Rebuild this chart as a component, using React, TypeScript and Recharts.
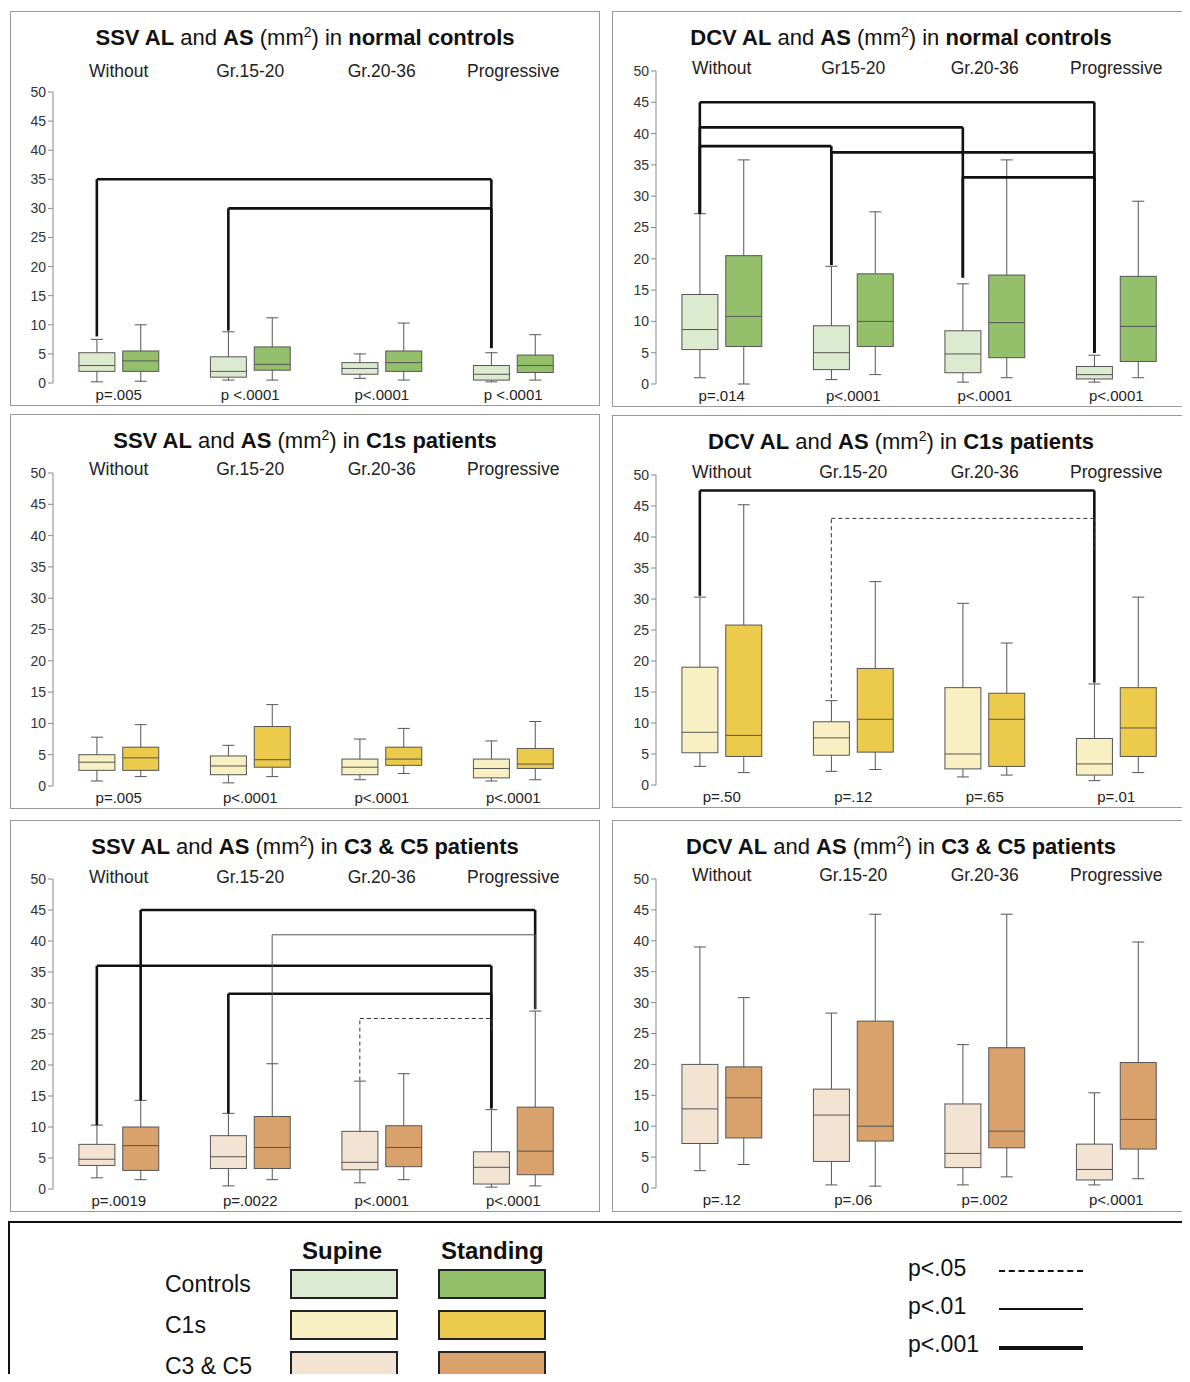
import { ComposedChart, Bar, XAxis, YAxis, ReferenceLine } from "recharts";

// box positions: group g -> supine at 3g+1, standing at 3g+2
const positions = [1, 2, 4, 5, 7, 8, 10, 11];
const groupTicks = [1.5, 4.5, 7.5, 10.5];
const yTicks = [0, 5, 10, 15, 20, 25, 30, 35, 40, 45, 50];

// [min, q1, median, q3, max], order: W sup, W std, G15 sup, G15 std, G20 sup, G20 std, Prog sup, Prog std
const ssvControls = [
  [0.2, 2, 3, 5.2, 7.5], [0.3, 2, 3.8, 5.5, 10],
  [0.5, 1, 2, 4.5, 8.8], [0.5, 2.2, 3.2, 6.2, 11.2],
  [0.8, 1.5, 2.5, 3.5, 5], [0.5, 2, 3.5, 5.5, 10.3],
  [0.2, 0.5, 1.5, 3, 5.2], [0.5, 1.8, 3, 4.8, 8.3],
];
const dcvControls = [
  [1, 5.5, 8.7, 14.3, 27.2], [0, 6, 10.8, 20.5, 35.8],
  [0.7, 2.3, 5, 9.3, 18.8], [1.5, 6, 10, 17.6, 27.5],
  [0.3, 1.8, 4.8, 8.5, 16], [1, 4.2, 9.8, 17.4, 35.8],
  [0.3, 0.8, 1.5, 2.8, 4.6], [1, 3.6, 9.2, 17.2, 29.2],
];
const ssvC1 = [
  [0.8, 2.5, 3.8, 5, 7.8], [1.5, 2.5, 4.5, 6.2, 9.8],
  [0.5, 1.8, 3.2, 4.8, 6.5], [1.5, 3, 4.2, 9.5, 13],
  [1, 1.8, 3, 4.3, 7.5], [2, 3.3, 4.3, 6.2, 9.2],
  [0.8, 1.3, 2.8, 4.3, 7.2], [1, 2.8, 3.5, 6, 10.3],
];
const dcvC1 = [
  [3, 5.2, 8.5, 19, 30.3], [2, 4.6, 8, 25.8, 45.2],
  [2.2, 4.8, 7.6, 10.2, 13.6], [2.5, 5.3, 10.6, 18.8, 32.8],
  [1.3, 2.6, 5, 15.7, 29.3], [1.6, 3, 10.6, 14.8, 22.9],
  [0.7, 1.6, 3.4, 7.5, 16.3], [2, 4.6, 9.2, 15.7, 30.3],
];
const ssvC3 = [
  [1.8, 3.8, 4.8, 7.2, 10.3], [1.5, 3, 7, 10, 14.3],
  [0.5, 3.3, 5.2, 8.6, 12.2], [1.5, 3.3, 6.7, 11.7, 20.2],
  [1, 3.1, 4.3, 9.3, 17.4], [1.5, 3.6, 6.7, 10.2, 18.6],
  [0.3, 0.8, 3.5, 6, 12.8], [0.5, 2.3, 6.1, 13.2, 28.7],
];
const dcvC3 = [
  [2.8, 7.2, 12.8, 20, 39], [3.8, 8.1, 14.6, 19.6, 30.8],
  [0.5, 4.3, 11.8, 16, 28.3], [0.3, 7.6, 10, 27, 44.3],
  [0.5, 3.3, 5.6, 13.6, 23.2], [1.8, 6.5, 9.2, 22.7, 44.3],
  [0.5, 1.3, 3, 7.1, 15.4], [1.5, 6.3, 11.1, 20.3, 39.8],
];

const groupsA = ["Without", "Gr.15-20", "Gr.20-36", "Progressive"];
const groupsB = ["Without", "Gr15-20", "Gr.20-36", "Progressive"];

const pSsvControls = ["p=.005", "p <.0001", "p<.0001", "p <.0001"];
const pDcvControls = ["p=.014", "p<.0001", "p<.0001", "p<.0001"];
const pSsvC1 = ["p=.005", "p<.0001", "p<.0001", "p<.0001"];
const pDcvC1 = ["p=.50", "p=.12", "p=.65", "p=.01"];
const pSsvC3 = ["p=.0019", "p=.0022", "p<.0001", "p<.0001"];
const pDcvC3 = ["p=.12", "p=.06", "p=.002", "p<.0001"];

// brackets: [fromX, fromY, toX, toY, topY, kind]
const brSsvControls = [
  [1, 8, 10, 6, 35, "thick"],
  [4, 9, 10, 6, 30, "thick"],
];
const brDcvControls = [
  [1, 27.2, 10, 5, 45, "thick"],
  [1, 27.2, 7, 17, 41, "thick"],
  [1, 27.2, 4, 19, 38, "thick"],
  [4, 19, 10, 5, 37, "thick"],
  [7, 17, 10, 5, 33, "thick"],
];
const brDcvC1 = [
  [1, 30.5, 10, 16.5, 47.5, "thick"],
  [4, 14, 10, 38, 43, "dash"],
];
const brSsvC3 = [
  [1, 10.3, 10, 13, 36, "thick"],
  [2, 14.3, 11, 29, 45, "thick"],
  [4, 12.2, 10, 13, 31.5, "thick"],
  [5, 20.2, 11, 29, 41, "thin"],
  [7, 17.5, 10, 25.5, 27.5, "dash"],
];

const colors = {
  controls: ["#dcebd0", "#94c06c"],
  c1: ["#f8f0c2", "#ecca4c"],
  c3: ["#f3e3d3", "#d9a16c"],
};

const FONT = "'Liberation Sans', Arial, sans-serif";

function BoxShape(props: any) {
  const { x, y, width, height, payload } = props;
  const [mn, q1, md, q3, mx] = payload.stats;
  const pix = (v: number) => y + (height * (mx - v)) / (mx - mn || 1);
  const cx = x + width / 2;
  return (
    <g stroke="#555" strokeWidth={1}>
      <line x1={cx} x2={cx} y1={pix(mx)} y2={pix(mn)} />
      <line x1={cx - 6} x2={cx + 6} y1={pix(mx)} y2={pix(mx)} />
      <line x1={cx - 6} x2={cx + 6} y1={pix(mn)} y2={pix(mn)} />
      <rect x={x} y={pix(q3)} width={width} height={pix(q1) - pix(q3)} fill={payload.fill} />
      <line x1={x} x2={x + width} y1={pix(md)} y2={pix(md)} />
    </g>
  );
}

function Panel(p: any) {
  const data = p.stats.map((s: number[], i: number) => ({
    x: positions[i],
    range: [s[0], s[4]],
    stats: s,
    fill: p.colors[i % 2],
  }));
  const mTop = p.plotTop - p.top - 22;
  const mBottom = Math.max(0, p.top + p.height - p.plotBottom - 22);
  const mLeft = p.yAxisX - p.left - 42;
  const mRight = p.width - (p.yAxisX - p.left) - 528;
  const strokeFor = (k: string) =>
    k === "thick" ? { stroke: "#111", strokeWidth: 2.6 } : k === "thin" ? { stroke: "#555", strokeWidth: 1 } : { stroke: "#333", strokeWidth: 1, strokeDasharray: "4 3" };
  return (
    <div style={{ position: "absolute", left: p.left, top: p.top, width: p.width, height: p.height, border: "1px solid #999", boxSizing: "border-box" }}>
      <div style={{ position: "absolute", left: 0, right: 0, top: 12, textAlign: "center", fontFamily: FONT, fontSize: 22, color: "#111" }}>
        {p.title}
      </div>
      <ComposedChart width={p.width - 2} height={p.height - 2} data={data} margin={{ top: mTop, bottom: mBottom, left: mLeft, right: mRight }}>
        <XAxis xAxisId="t" orientation="top" type="number" dataKey="x" domain={[0, 12]} ticks={groupTicks} height={22}
          axisLine={false} tickLine={false} tickFormatter={(v: number) => p.groups[groupTicks.indexOf(v)]}
          tick={{ fontFamily: FONT, fontSize: 17.5, fill: "#222", dy: p.labelDy }} />
        <XAxis xAxisId="b" type="number" dataKey="x" domain={[0, 12]} ticks={groupTicks} height={22}
          axisLine={false} tickLine={false} tickMargin={0} tickFormatter={(v: number) => p.pvals[groupTicks.indexOf(v)]}
          tick={{ fontFamily: FONT, fontSize: 15, fill: "#222" }} />
        <YAxis type="number" domain={[0, 50]} ticks={yTicks} width={42} interval={0}
          axisLine={{ stroke: "#888" }} tickLine={{ stroke: "#888" }} tickSize={5}
          tick={{ fontFamily: FONT, fontSize: 14, fill: "#333" }} />
        {p.brackets.map((b: any[], i: number) => [
          <ReferenceLine key={"a" + i} xAxisId="b" segment={[{ x: b[0], y: b[1] }, { x: b[0], y: b[4] }]} {...strokeFor(b[5])} />,
          <ReferenceLine key={"b" + i} xAxisId="b" segment={[{ x: b[0], y: b[4] }, { x: b[2], y: b[4] }]} {...strokeFor(b[5])} />,
          <ReferenceLine key={"c" + i} xAxisId="b" segment={[{ x: b[2], y: b[4] }, { x: b[2], y: b[3] }]} {...strokeFor(b[5])} />,
        ])}
        <Bar xAxisId="b" dataKey="range" barSize={36} shape={BoxShape} isAnimationActive={false} />
      </ComposedChart>
    </div>
  );
}

function Title({ a, b }: { a: string; b: string }) {
  return (
    <span>
      <b>{a} AL</b> and <b>AS</b> (mm<sup style={{ fontSize: 14 }}>2</sup>) in <b>{b}</b>
    </span>
  );
}

const swatch = (c: string) => (
  <div style={{ width: 108, height: 30, background: c, border: "2px solid #222", boxSizing: "border-box" }} />
);

export default function App() {
  return (
    <div style={{ position: "relative", width: 1190, height: 1382, margin: -8, background: "#fff", overflow: "hidden" }}>
      <Panel left={10} top={11} width={590} height={395} plotTop={91} plotBottom={385} yAxisX={52} labelDy={-7}
        stats={ssvControls} colors={colors.controls} groups={groupsA} pvals={pSsvControls} brackets={brSsvControls}
        title={<Title a="SSV" b="normal controls" />} />
      <Panel left={612} top={11} width={578} height={396} plotTop={70} plotBottom={385} yAxisX={655} labelDy={11}
        stats={dcvControls} colors={colors.controls} groups={groupsB} pvals={pDcvControls} brackets={brDcvControls}
        title={<Title a="DCV" b="normal controls" />} />
      <Panel left={10} top={414} width={590} height={395} plotTop={472} plotBottom={788} yAxisX={52} labelDy={10}
        stats={ssvC1} colors={colors.c1} groups={groupsA} pvals={pSsvC1} brackets={[]}
        title={<Title a="SSV" b="C1s patients" />} />
      <Panel left={612} top={415} width={578} height={393} plotTop={474} plotBottom={787} yAxisX={655} labelDy={11}
        stats={dcvC1} colors={colors.c1} groups={groupsA} pvals={pDcvC1} brackets={brDcvC1}
        title={<Title a="DCV" b="C1s patients" />} />
      <Panel left={10} top={820} width={590} height={392} plotTop={878} plotBottom={1190} yAxisX={52} labelDy={12}
        stats={ssvC3} colors={colors.c3} groups={groupsA} pvals={pSsvC3} brackets={brSsvC3}
        title={<Title a="SSV" b="C3 & C5 patients" />} />
      <Panel left={612} top={820} width={578} height={392} plotTop={878} plotBottom={1189} yAxisX={655} labelDy={10}
        stats={dcvC3} colors={colors.c3} groups={groupsA} pvals={pDcvC3} brackets={[]}
        title={<Title a="DCV" b="C3 & C5 patients" />} />

      <div style={{ position: "absolute", left: 8, top: 1221, width: 1190, height: 170, borderTop: "2px solid #111", borderLeft: "2px solid #111", fontFamily: FONT, fontSize: 23, color: "#111" }}>
        <div style={{ position: "absolute", left: 292, top: 14, fontWeight: "bold", fontSize: 24 }}>Supine</div>
        <div style={{ position: "absolute", left: 431, top: 14, fontWeight: "bold", fontSize: 24 }}>Standing</div>
        {[["Controls", colors.controls], ["C1s", colors.c1], ["C3 & C5", colors.c3]].map((r: any, i: number) => (
          <div key={i}>
            <div style={{ position: "absolute", left: 155, top: 48 + i * 41 }}>{r[0]}</div>
            <div style={{ position: "absolute", left: 280, top: 46 + i * 41 }}>{swatch(r[1][0])}</div>
            <div style={{ position: "absolute", left: 428, top: 46 + i * 41 }}>{swatch(r[1][1])}</div>
          </div>
        ))}
        {[["p<.05", "2px dashed #111"], ["p<.01", "2px solid #111"], ["p<.001", "4px solid #111"]].map((r, i) => (
          <div key={i}>
            <div style={{ position: "absolute", left: 898, top: 32 + i * 38 }}>{r[0]}</div>
            <div style={{ position: "absolute", left: 989, top: 47 + i * 38, width: 84, borderTop: r[1] }} />
          </div>
        ))}
      </div>
    </div>
  );
}
